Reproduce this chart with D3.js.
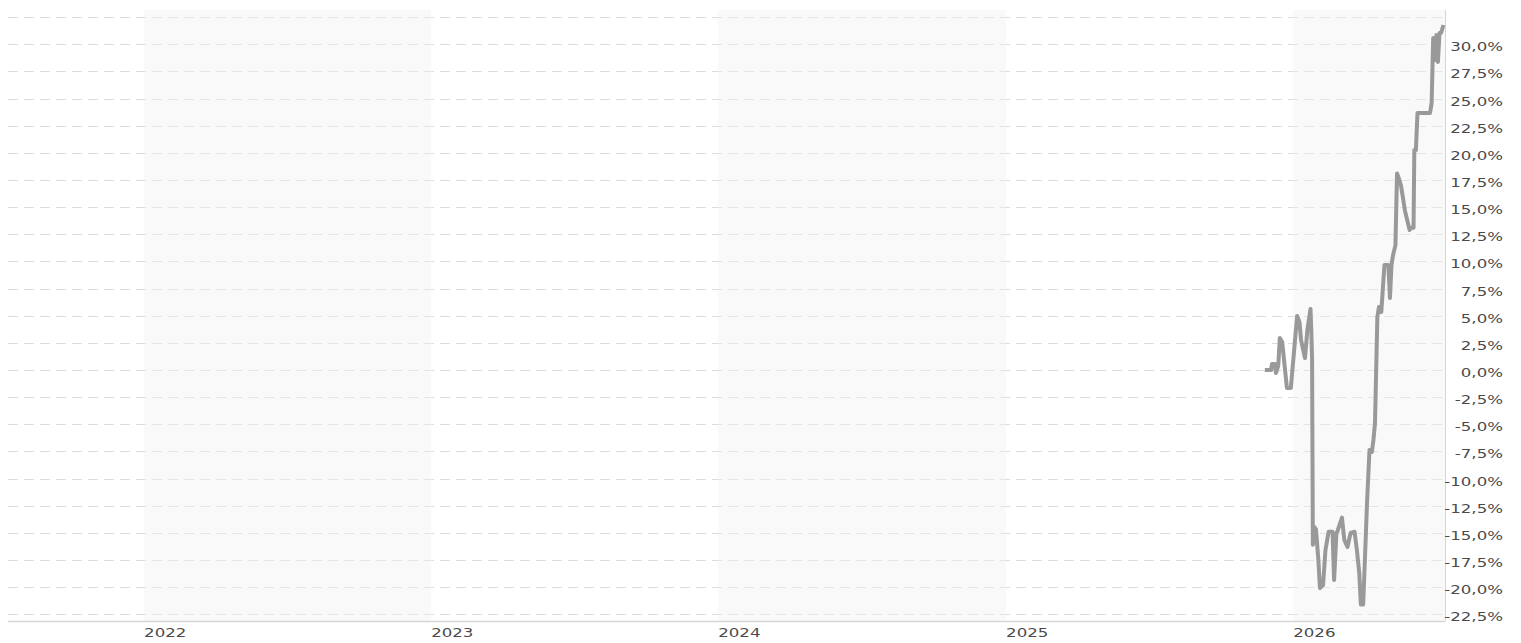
<!DOCTYPE html>
<html>
<head>
<meta charset="utf-8">
<script src="https://cdn.jsdelivr.net/npm/d3@7"></script>
<style>
  body { margin: 0; background: #fff; }
  svg { display: block; }
</style>
</head>
<body>
<div id="plot"></div>
<script>
// performance line, in percent
var dates = [
  "2025-11-26", "2025-12-04", "2025-12-05", "2025-12-09", "2025-12-10", "2025-12-13",
  "2025-12-15", "2025-12-18", "2025-12-21", "2025-12-24", "2025-12-29", "2026-01-02",
  "2026-01-06", "2026-01-09", "2026-01-11", "2026-01-14", "2026-01-16", "2026-01-19",
  "2026-01-23", "2026-01-24", "2026-01-25", "2026-01-26", "2026-01-28", "2026-01-30",
  "2026-02-02", "2026-02-04", "2026-02-08", "2026-02-11", "2026-02-15", "2026-02-20",
  "2026-02-22", "2026-02-25", "2026-02-26", "2026-03-04", "2026-03-07", "2026-03-11",
  "2026-03-15", "2026-03-20", "2026-03-23", "2026-03-26", "2026-03-28", "2026-03-31",
  "2026-04-05", "2026-04-08", "2026-04-11", "2026-04-13", "2026-04-15", "2026-04-18",
  "2026-04-20", "2026-04-23", "2026-04-27", "2026-05-02", "2026-05-04", "2026-05-06",
  "2026-05-08", "2026-05-11", "2026-05-13", "2026-05-16", "2026-05-18", "2026-05-21",
  "2026-05-23", "2026-05-26", "2026-05-29", "2026-05-31", "2026-06-03", "2026-06-04",
  "2026-06-06", "2026-06-08", "2026-06-24", "2026-06-26", "2026-06-28", "2026-07-01",
  "2026-07-02", "2026-07-04", "2026-07-06", "2026-07-08", "2026-07-11"
];
var values = [
  0.0, 0.0, 0.55, 0.55, -0.28, 0.37,
  2.95, 2.58, 0.46, -1.66, -1.66, 1.66,
  4.97, 4.42, 2.76, 1.75, 1.1, 3.68,
  5.62, 3.68, 1.1, -16.1, -14.46, -14.7,
  -17.5, -20.08, -19.8, -16.6, -14.9, -14.9,
  -19.34, -15.0, -14.9, -13.6, -15.66, -16.3,
  -15.0, -14.9, -16.6, -18.7, -21.6, -21.6,
  -12.0, -7.37, -7.55, -6.45, -4.88, 4.88,
  5.8, 5.34, 9.67, 9.67, 6.63, 9.67,
  10.6, 11.5, 18.1, 17.5, 17.0, 15.66,
  14.7, 13.8, 12.9, 13.1, 13.1, 20.26,
  20.26, 23.67, 23.67, 24.6, 30.58, 28.55,
  30.86, 28.37, 31.04, 31.04, 31.78
];

var yTicks = d3.range(-22.5, 33, 2.5);
var yLabels = yTicks.filter(function (v) { return v <= 30; });
var years = [2022, 2023, 2024, 2025, 2026];
var shadedYears = [2022, 2024, 2026];

var width = 1521, height = 643;
var margin = { top: 10, right: 76, bottom: 22, left: 8 };

var svg = d3.select("div#plot")
  .append("svg")
  .attr("width", width)
  .attr("height", height);

var x = d3.scaleTime()
  .domain([new Date(2021, 6, 12), new Date(2026, 6, 13)])
  .range([margin.left, width - margin.right]);

var y = d3.scaleLinear()
  .domain([-23.12, 33.16])
  .range([height - margin.bottom, margin.top]);

var parse = d3.timeParse("%Y-%m-%d");
var data = dates.map(function (d, i) { return { date: parse(d), value: values[i] }; });

// dashed grid
svg.append("g")
  .selectAll("line")
  .data(yTicks)
  .join("line")
  .attr("x1", margin.left)
  .attr("x2", width - margin.right)
  .attr("y1", function (d) { return Math.round(y(d)) + 0.5; })
  .attr("y2", function (d) { return Math.round(y(d)) + 0.5; })
  .attr("stroke", "#dcdcdc")
  .attr("stroke-width", 1)
  .attr("stroke-dasharray", "10,6");

// alternating year bands (drawn over the grid, semi transparent)
svg.append("g")
  .selectAll("rect")
  .data(shadedYears)
  .join("rect")
  .attr("x", function (d) { return x(new Date(d, 0, 1)); })
  .attr("y", margin.top)
  .attr("width", function (d) {
    return Math.min(x(new Date(d + 1, 0, 1)), width - margin.right) - x(new Date(d, 0, 1));
  })
  .attr("height", height - margin.bottom - margin.top)
  .attr("fill", "#f1f1f1")
  .attr("fill-opacity", 0.42);

// axes lines
svg.append("line")
  .attr("x1", margin.left)
  .attr("x2", width - margin.right)
  .attr("y1", height - margin.bottom + 0.5)
  .attr("y2", height - margin.bottom + 0.5)
  .attr("stroke", "#d6d6d6")
  .attr("stroke-width", 1.5);

svg.append("line")
  .attr("x1", width - margin.right + 0.5)
  .attr("x2", width - margin.right + 0.5)
  .attr("y1", margin.top)
  .attr("y2", height - margin.bottom)
  .attr("stroke", "#d6d6d6")
  .attr("stroke-width", 1);

// y labels on the right (wide, verdana-like look)
svg.append("g")
  .selectAll("text")
  .data(yLabels)
  .join("text")
  .attr("transform", function (d) { return "translate(1503," + (y(d) + 7) + ") scale(1.33,1)"; })
  .attr("text-anchor", "end")
  .style("font-family", "'DejaVu Sans', Verdana, sans-serif")
  .style("font-size", "12.5px")
  .attr("fill", "#4a4a4a")
  .text(function (d) { return d.toFixed(1).replace(".", ",") + "%"; });

// year labels
svg.append("g")
  .selectAll("text")
  .data(years)
  .join("text")
  .attr("transform", function (d) { return "translate(" + x(new Date(d, 0, 1)) + "," + (height - 6) + ") scale(1.33,1)"; })
  .style("font-family", "'DejaVu Sans', Verdana, sans-serif")
  .style("font-size", "12.5px")
  .attr("fill", "#4a4a4a")
  .text(function (d) { return d; });

var line = d3.line()
  .x(function (d) { return x(d.date); })
  .y(function (d) { return y(d.value); });

svg.append("path")
  .datum(data)
  .attr("d", line)
  .attr("fill", "none")
  .attr("stroke", "#999")
  .attr("stroke-width", 4)
  .attr("stroke-linejoin", "round");
</script>
</body>
</html>
